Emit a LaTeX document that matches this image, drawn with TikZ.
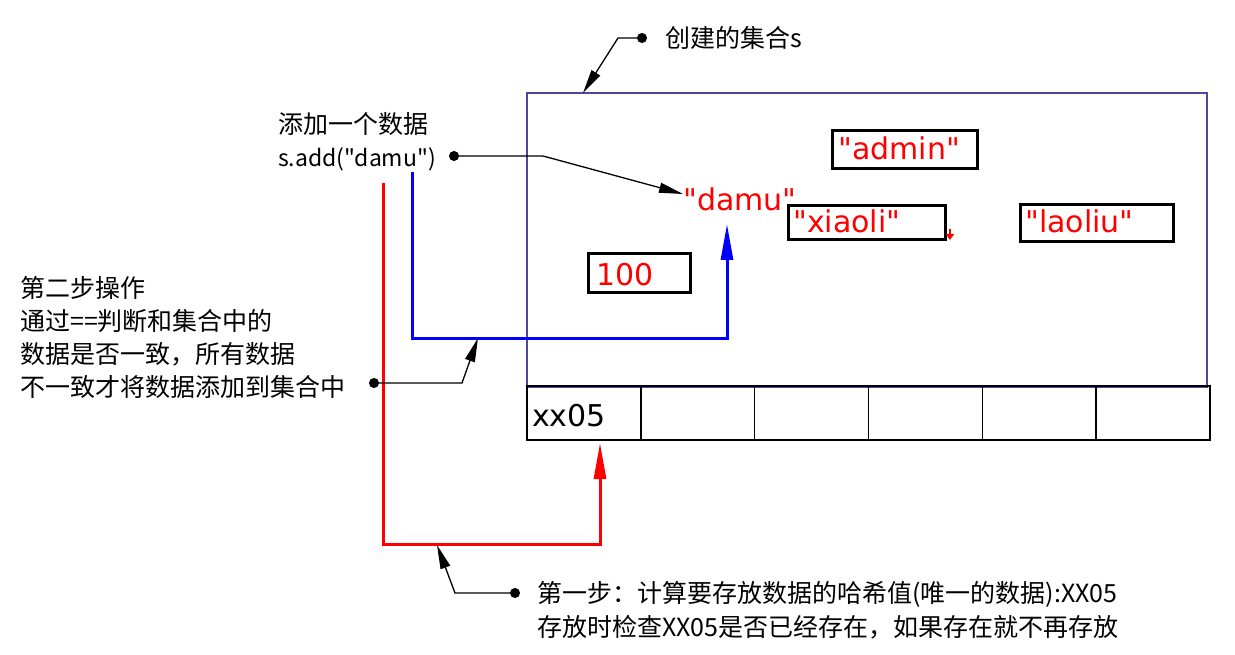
\documentclass[tikz,border=0pt]{standalone}
\usepackage{fontspec}
\setmainfont{DejaVu Sans}[Ligatures=TeXOff]
\newfontfamily\cjk{Noto Sans CJK SC}[Ligatures=TeXOff]
\usetikzlibrary{arrows.meta}
\definecolor{setcol}{RGB}{80,70,160}
\begin{document}
\begin{tikzpicture}[x=1pt,y=-1pt,
  cn/.style={font={\cjk\fontsize{25}{33}\selectfont},align=left,inner sep=0pt,anchor=west},
  val/.style={font={\fontsize{30}{36}\selectfont},text=red,inner sep=0pt,anchor=base west},
  vbox/.style={draw,line width=3pt,inner sep=0pt},
  cell/.style={draw,line width=1.6pt,minimum width=113.83pt,minimum height=54pt,inner sep=0pt},
  ptr/.style={line width=1.3pt,{Circle[length=10pt]}-{Triangle[length=24pt,width=10pt]}},
  bluep/.style={draw=blue,line width=3pt,-{Triangle[length=36pt,width=12pt]}},
  redp/.style={draw=red,line width=3pt,-{Triangle[length=36pt,width=12pt]}}]
\useasboundingbox (0,0) rectangle (1235,655);
% set rectangle
\node[draw=setcol,line width=1.2pt,minimum width=680pt,minimum height=294pt,inner sep=0pt] (set) at (867,240) {};
% table
\foreach \i in {0,...,5}{
  \node[cell] (c\i) at ({527+56.92+113.83*\i},413) {};
}
\node[font={\fontsize{30}{36}\selectfont},inner sep=0pt,anchor=base west] (xx) at (532,426) {xx05};
% value boxes
\node[vbox,minimum width=145pt,minimum height=38pt] (bAdmin) at (904.5,150) {};
\node[val] (admin) at (838,160) {"admin"};
\node[vbox,minimum width=157pt,minimum height=34pt] (bXiaoli) at (866.5,223) {};
\node[val] (xiaoli) at (793,233) {"xiaoli"};
\node[vbox,minimum width=153pt,minimum height=37pt] (bLaoliu) at (1096.5,223.5) {};
\node[val] (laoliu) at (1025,233) {"laoliu"};
\node[vbox,minimum width=102pt,minimum height=39pt] (b100) at (639,273.5) {};
\node[val] (v100) at (596,286) {100};
\node[val] (damu) at (683,211) {"damu"};
% small red mark
\coordinate (rm1) at (950,229);
\coordinate (rm2) at (950,240);
\draw[red,line width=2pt,-{Triangle[length=6pt,width=8pt]}] (rm1) -- (rm2);
% texts
\node[cn] (tset) at (665,38) {创建的集合s};
\node[cn] (tadd) at (278,142) {添加一个数据\\{\fontsize{23}{33}\selectfont s.add("damu")}};
\node[cn] (tstep2) at (20,337) {第二步操作\\通过==判断和集合中的\\数据是否一致，所有数据\\不一致才将数据添加到集合中};
\node[cn,font={\cjk\fontsize{25}{34}\selectfont}] (tstep1) at (537,610) {第一步：计算要存放数据的哈希值(唯一的数据):XX05\\存放时检查XX05是否已经存在，如果存在就不再存放};
% coloured paths
\coordinate (b0) at (412,172);
\coordinate (b1) at (412,338);
\coordinate (b2) at (727,338);
\coordinate (b3) at (727,224);
\draw[bluep] (b0) -- (b1) -- (b2) -- (b3);
\coordinate (r0) at (383,183);
\coordinate (r1) at (383,544);
\coordinate (r2) at (600,544);
\coordinate (r3) at (600,443);
\draw[redp] (r0) -- (r1) -- (r2) -- (r3);
% black pointers
\coordinate (d1) at (647,38);
\coordinate (k1) at (618,38);
\coordinate (t1) at (583,93);
\draw[ptr] (d1) -- (k1) -- (t1);
\coordinate (d2) at (449,156);
\coordinate (k2) at (543,156);
\coordinate (t2) at (683,194);
\draw[ptr] (d2) -- (k2) -- (t2);
\coordinate (d3) at (369,383);
\coordinate (k3) at (462,383);
\coordinate (t3) at (478,338);
\draw[ptr] (d3) -- (k3) -- (t3);
\coordinate (d4) at (520,593);
\coordinate (k4) at (455,593);
\coordinate (t4) at (437,545);
\draw[ptr] (d4) -- (k4) -- (t4);
\end{tikzpicture}
\end{document}
